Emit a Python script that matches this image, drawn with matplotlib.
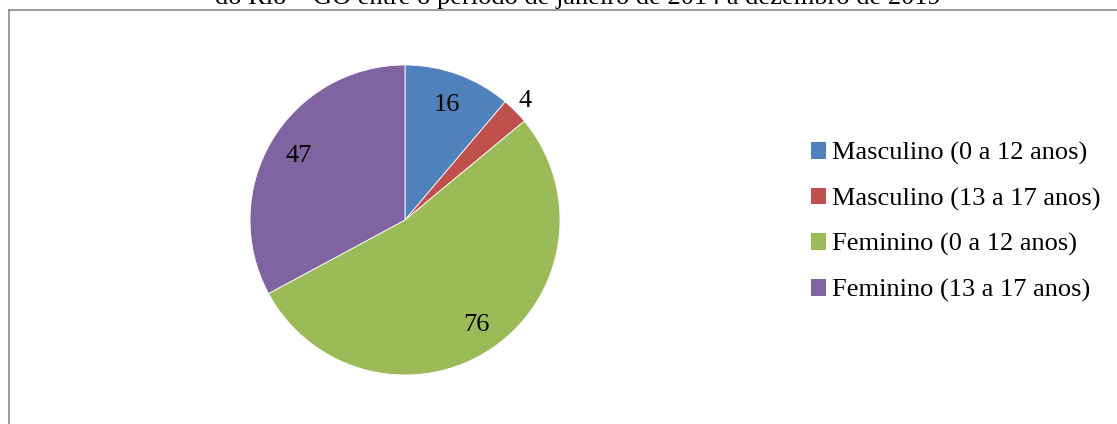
import matplotlib.pyplot as plt
from matplotlib.patches import Patch
import numpy as np

# --- DADOS ---
categorias = ["Masculino (0 a 12 anos)", "Masculino (13 a 17 anos)",
              "Feminino (0 a 12 anos)", "Feminino (13 a 17 anos)"]
valores = [16, 4, 76, 47]
cores = ["#4F81BD", "#C0504D", "#9BBB59", "#8064A2"]
dist_rotulos = [0.79, 1.09, 0.82, 0.80]
titulo = "do Rio – GO entre o período de janeiro de 2014 a dezembro de 2019"

plt.rcParams['font.family'] = ['Liberation Serif', 'DejaVu Serif']

W, H = 1117, 424
fig = plt.figure(figsize=(W / 100, H / 100), dpi=100)

# moldura do gráfico (só topo e esquerda visíveis)
fig.add_artist(plt.Line2D([9 / W, 9 / W], [-0.1, 1 - 10 / H], color="#8c8c8c", lw=1.2))
fig.add_artist(plt.Line2D([9 / W, 1.1], [1 - 10 / H, 1 - 10 / H], color="#8c8c8c", lw=1.2))

# titulo cortado no topo
fig.text(578 / W, 1 - 4 / H, titulo, ha="center", va="baseline", fontsize=19)

ax = fig.add_axes([250 / W, 49 / H, 310 / W, 310 / H])
wedges, _ = ax.pie(valores, colors=cores, startangle=90, counterclock=False,
                   radius=1, wedgeprops=dict(linewidth=0.6, edgecolor="white"))
ax.set_xlim(-1, 1)
ax.set_ylim(-1, 1)
ax.set_aspect("equal")
ax.axis("off")

for w, v, d in zip(wedges, valores, dist_rotulos):
    ang = np.deg2rad((w.theta1 + w.theta2) / 2)
    ax.text(d * np.cos(ang), d * np.sin(ang), str(v), ha="center", va="center",
            fontsize=19, clip_on=False)

handles = [Patch(facecolor=c, edgecolor="none") for c in cores]
fig.legend(handles, categorias, loc="center left", bbox_to_anchor=(800 / W, 1 - 222 / H),
           frameon=False, fontsize=19, handlelength=0.6, handleheight=0.6,
           handletextpad=0.2, labelspacing=0.86, borderaxespad=0)

fig.savefig("out.png", dpi=100)
